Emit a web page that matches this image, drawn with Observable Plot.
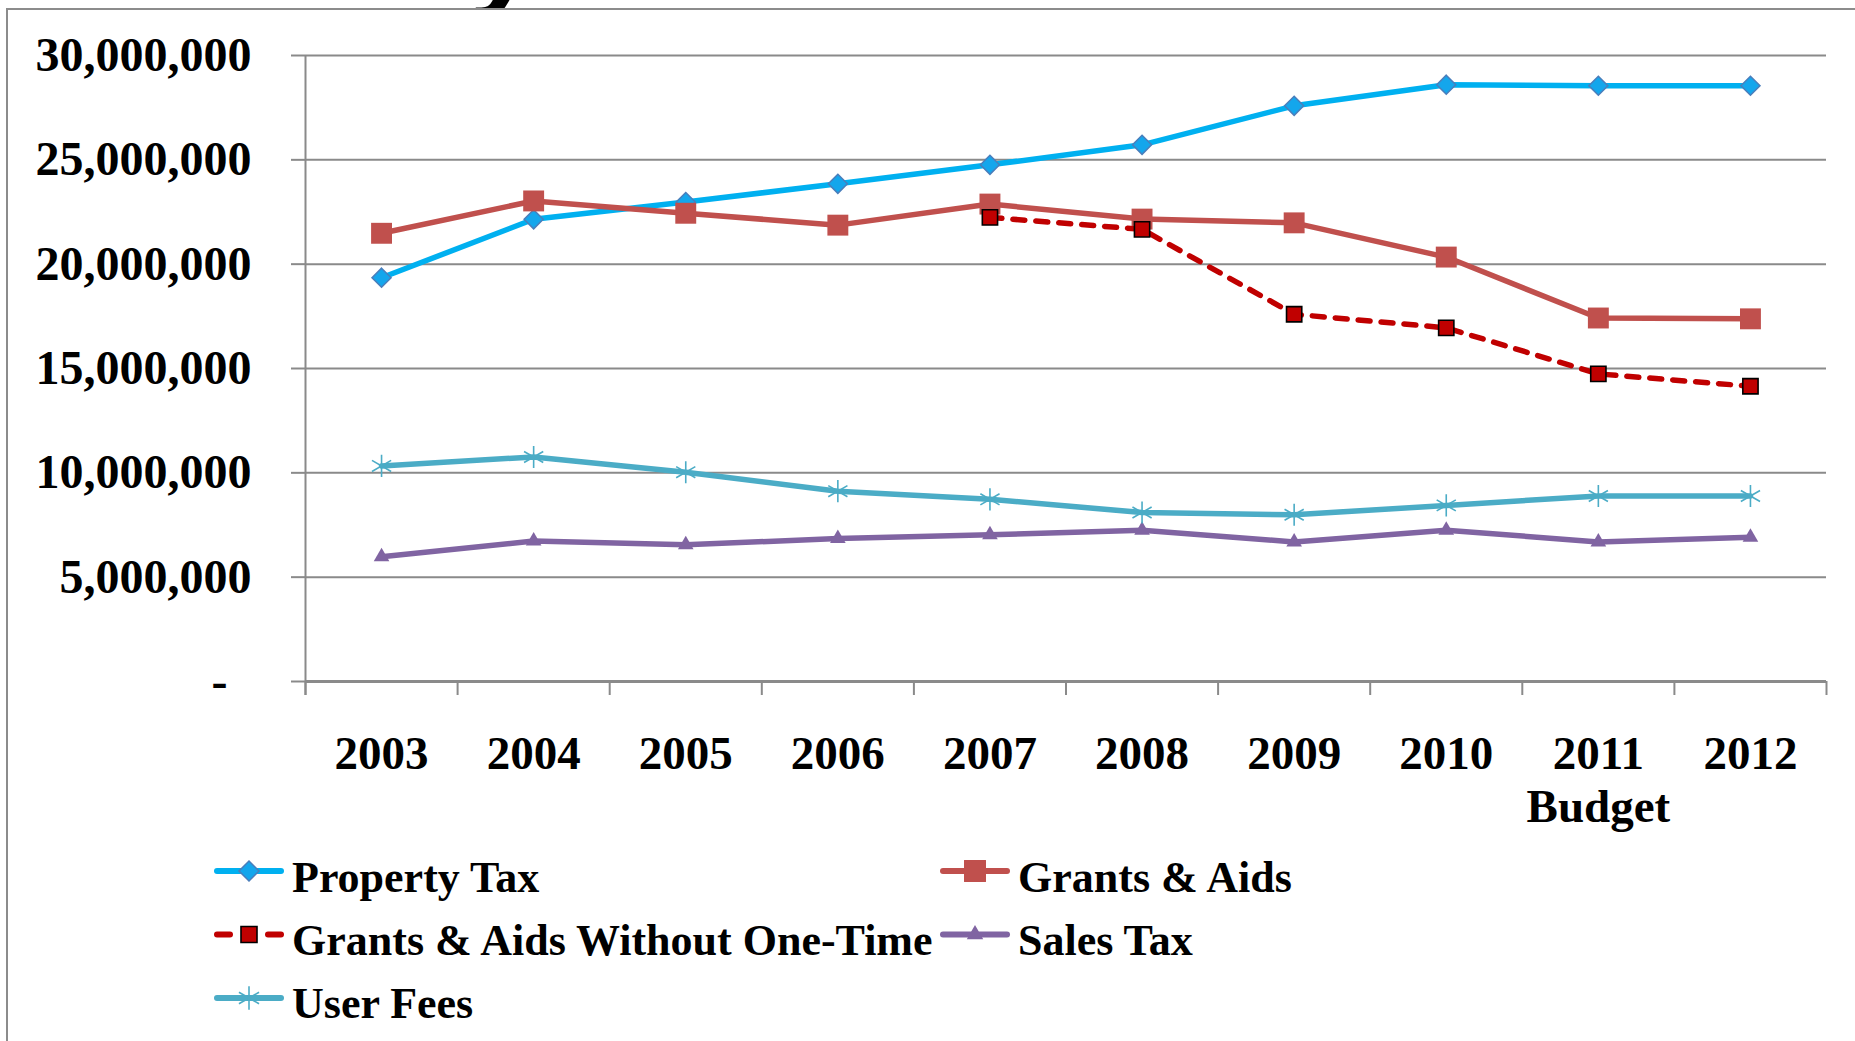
<!DOCTYPE html>
<html>
<head>
<meta charset="utf-8">
<script src="https://cdn.jsdelivr.net/npm/d3@7"></script>
<script src="https://cdn.jsdelivr.net/npm/@observablehq/plot@0.6"></script>
<style>
  html, body { margin: 0; padding: 0; background: #ffffff; width: 1855px; height: 1041px; overflow: hidden; }
  #chart { position: absolute; left: 0; top: 0; }
  #legend { position: absolute; left: 0; top: 840px; }
  #frame { position: absolute; left: 6px; top: 8px; width: 2000px; height: 1200px;
           border-left: 2px solid #8c8c8c; border-top: 2px solid #8c8c8c; pointer-events: none; }
  #titleclip { position: absolute; left: 440px; top: 0; width: 120px; height: 9px; overflow: hidden; }
  #titleclip span { position: absolute; left: 34px; top: -87px; font: oblique bold 100px 'DejaVu Sans', sans-serif; line-height: 100px; color: #000; }
</style>
</head>
<body>
<div id="titleclip"><span>y</span></div>
<div id="chart"></div>
<div id="legend"></div>
<div id="frame"></div>
<script>
// ---------- data ----------
const years = [2003, 2004, 2005, 2006, 2007, 2008, 2009, 2010, 2011, 2012];
const xTickLabels = ["2003", "2004", "2005", "2006", "2007", "2008", "2009", "2010", "2011\nBudget", "2012"];
const yTickValues = [0, 5000000, 10000000, 15000000, 20000000, 25000000, 30000000];
const seriesNames = ["Property Tax", "Grants & Aids", "Grants & Aids Without One-Time", "Sales Tax", "User Fees"];
const propertyTax = [19350000, 22150000, 22980000, 23850000, 24760000, 25720000, 27590000, 28600000, 28550000, 28550000];
const grantsAids = [21480000, 23030000, 22440000, 21870000, 22880000, 22160000, 21980000, 20340000, 17420000, 17380000];
const grantsAidsWithoutOneTime = [null, null, null, null, 22240000, 21670000, 17600000, 16950000, 14740000, 14150000];
const salesTax = [5980000, 6730000, 6550000, 6850000, 7030000, 7250000, 6690000, 7250000, 6690000, 6910000];
const userFees = [10330000, 10760000, 10030000, 9120000, 8730000, 8100000, 7990000, 8440000, 8890000, 8890000];

// ---------- helpers ----------
const rows = (vals) => years.map((year, i) => ({year, value: vals[i]})).filter(d => d.value != null);
const fmtY = d => d === 0 ? "-\u00a0\u00a0" : d3.format(",")(d);
const x0 = years[0] - 0.5, x1 = years[years.length - 1] + 0.5;
const boundaries = years.map(y => y - 0.5).concat([x1]);
const GRID = "#8a8a8a";
const FONT = "'Liberation Serif', 'Times New Roman', serif";

const styles = [
  {line: {stroke: "#00B0F0", strokeWidth: 5.5}, dot: {symbol: "diamond2", r: 8.6, fill: "#14A6EC", stroke: "#4A7EBB", strokeWidth: 1.5}},
  {line: {stroke: "#C0504D", strokeWidth: 5.5}, dot: {symbol: "square", r: 11.8, fill: "#C0504D", stroke: "none"}},
  {line: {stroke: "#C00000", strokeWidth: 5.5, strokeDasharray: "12,11", strokeLinecap: "round"}, dot: {symbol: "square", r: 8.6, fill: "#C00000", stroke: "#000000", strokeWidth: 1.6}},
  {line: {stroke: "#8064A2", strokeWidth: 5.5}, dot: {symbol: "triangle", r: 5.8, fill: "#8064A2", stroke: "none"}},
  {line: {stroke: "#4BACC6", strokeWidth: 5.5}, dot: {symbol: "asterisk", r: 10.5, fill: "none", stroke: "#4BACC6", strokeWidth: 1.6}}
];
const seriesValues = [propertyTax, grantsAids, grantsAidsWithoutOneTime, salesTax, userFees];

const seriesMarks = [];
seriesValues.forEach((vals, i) => {
  const data = rows(vals);
  seriesMarks.push(Plot.line(data, {x: "year", y: "value", ...styles[i].line}));
  seriesMarks.push(Plot.dot(data, {x: "year", y: "value", ...styles[i].dot}));
});

const chart = Plot.plot({
  width: 1855,
  height: 840,
  marginLeft: 305,
  marginRight: 29,
  marginTop: 55,
  marginBottom: 159,
  x: {type: "linear", domain: [x0, x1]},
  y: {type: "linear", domain: [0, 30000000]},
  style: {fontFamily: FONT, fontWeight: "bold", fontSize: "47px", background: "none", color: "#000", overflow: "visible"},
  marks: [
    Plot.gridY(yTickValues, {stroke: GRID, strokeOpacity: 1, strokeWidth: 2}),
    Plot.axisY({ticks: yTickValues, tickSize: 14, tickPadding: 40, tickFormat: fmtY,
                stroke: GRID, strokeWidth: 2, strokeOpacity: 1, fontSize: 48, fontWeight: "bold", fill: "#000", label: null}),
    Plot.ruleX([x0], {stroke: GRID, strokeWidth: 2, insetBottom: -14}),
    Plot.ruleY([0], {stroke: GRID, strokeWidth: 3}),
    Plot.axisX({ticks: boundaries, tickSize: 14, tickFormat: () => "", stroke: GRID, strokeWidth: 2, strokeOpacity: 1, label: null}),
    Plot.axisX({ticks: years, tickSize: 0, tickPadding: 50, tickFormat: d => xTickLabels[years.indexOf(d)],
                fontSize: 47, fontWeight: "bold", lineHeight: 1.13, fill: "#000", label: null}),
    ...seriesMarks
  ]
});
document.getElementById("chart").appendChild(chart);

// ---------- legend ----------
const legendPos = [
  {x: 214, row: 0}, {x: 940, row: 0},
  {x: 214, row: 1}, {x: 940, row: 1},
  {x: 214, row: 2}
];
const lsvg = d3.select("#legend").append("svg")
  .attr("width", 1855).attr("height", 201)
  .style("font-family", FONT).style("font-weight", "bold").style("font-size", "44px");
const symbolMap = {diamond2: d3.symbolDiamond2, square: d3.symbolSquare, triangle: d3.symbolTriangle, asterisk: d3.symbolAsterisk};
seriesNames.forEach((name, i) => {
  const p = legendPos[i];
  const ly = 31 + p.row * 63.5;
  const by = 52 + p.row * 63;
  const g = lsvg.append("g");
  const st = styles[i];
  if (st.line.strokeDasharray) {
    g.append("line").attr("x1", p.x + 3).attr("x2", p.x + 16).attr("y1", ly).attr("y2", ly)
      .attr("stroke", st.line.stroke).attr("stroke-width", 6).attr("stroke-linecap", "round");
    g.append("line").attr("x1", p.x + 54).attr("x2", p.x + 67).attr("y1", ly).attr("y2", ly)
      .attr("stroke", st.line.stroke).attr("stroke-width", 6).attr("stroke-linecap", "round");
  } else {
    g.append("line").attr("x1", p.x + 3).attr("x2", p.x + 67).attr("y1", ly).attr("y2", ly)
      .attr("stroke", st.line.stroke).attr("stroke-width", 6).attr("stroke-linecap", "round");
  }
  const r = st.dot.r * 1.05;
  g.append("path")
    .attr("d", d3.symbol(symbolMap[st.dot.symbol], Math.PI * r * r)())
    .attr("transform", `translate(${p.x + 35},${ly})`)
    .attr("fill", st.dot.fill).attr("stroke", st.dot.stroke || "none").attr("stroke-width", st.dot.strokeWidth || 0);
  g.append("text").attr("x", p.x + 78).attr("y", by).attr("fill", "#000").text(name);
});
</script>
</body>
</html>
